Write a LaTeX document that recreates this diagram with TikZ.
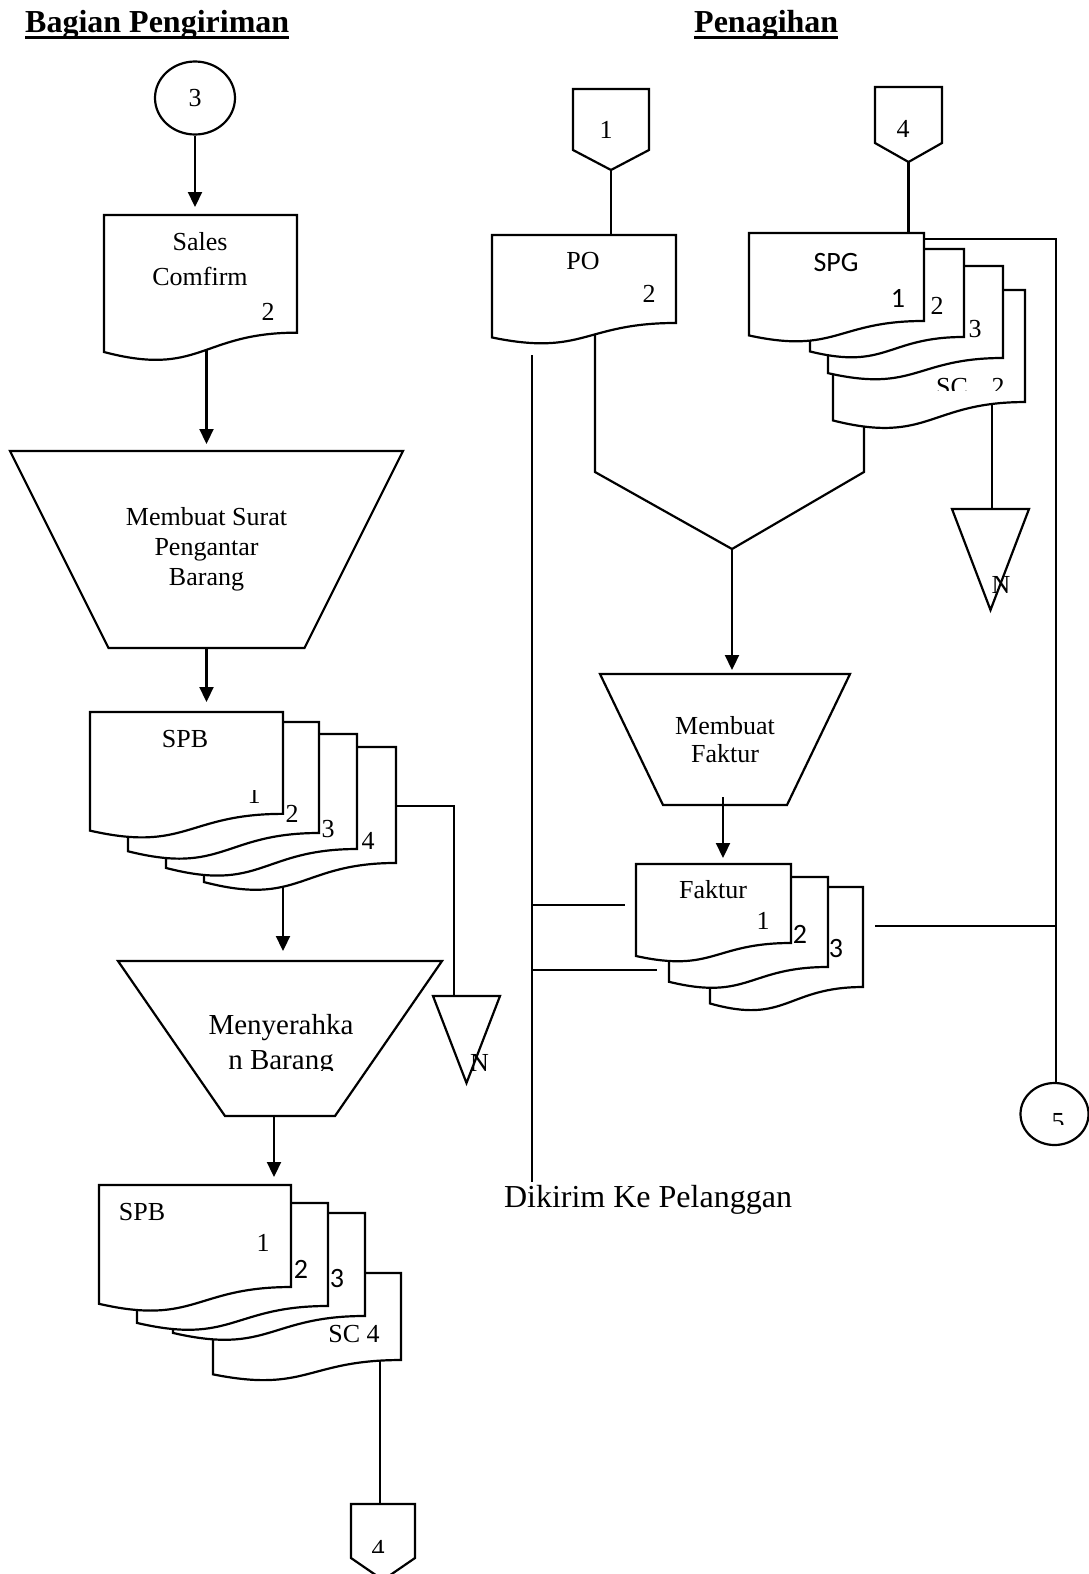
\documentclass[tikz,border=0pt]{standalone}
\usepackage{fontspec}
\setmainfont{Liberation Serif}
\newfontfamily\calfont{Carlito}
\usetikzlibrary{arrows.meta,calc,shapes.geometric,backgrounds}

\newcommand{\lab}{\fontsize{26}{30}\selectfont}
\newcommand{\labsans}{\calfont\fontsize{28}{32}\selectfont}
\newcommand{\hdr}{\bfseries\fontsize{32}{38}\selectfont}
\newcommand{\notefont}{\fontsize{32}{38}\selectfont}
\newcommand{\actfont}{\fontsize{29}{35}\selectfont}

\tikzset{
  ln/.style={line width=2.2pt, line join=miter},
  flow/.style={ln, -{Triangle[width=14pt,length=15pt]}},
  docfill/.style={ln, draw=black, fill=white},
  outline/.style={ln, draw=black},
  sheetbox/.style={rectangle, inner sep=0pt, outer sep=0pt, anchor=north west},
  procbox/.style={rectangle, inner sep=0pt, outer sep=0pt, align=center},
  lbl/.style={inner sep=0pt, anchor=base, font=\lab},
  lbls/.style={inner sep=0pt, anchor=base, font=\labsans},
}

% document sheet with a wavy lower edge: name, left, top, width, height
\newcommand{\docsheet}[5]{%
  \pgfmathsetmacro\dsR{#2+#4}%
  \pgfmathsetmacro\dsM{#2+0.5*#4}%
  \pgfmathsetmacro\dsYR{#3+0.802*#5}%
  \pgfmathsetmacro\dsYL{#3+0.934*#5}%
  \pgfmathsetmacro\dsYC{#3+1.1075*#5}%
  \node[sheetbox, minimum width=#4pt, minimum height=#5pt] (#1) at (#2,#3) {};%
  \filldraw[docfill] (#2,#3) -- (\dsR,#3) -- (\dsR,\dsYR)
    .. controls (\dsM,\dsYR) and (\dsM,\dsYC) .. (#2,\dsYL) -- cycle;%
}
% off-page connector: name, left, top, width, side height, full height
\newcommand{\offpage}[6]{%
  \node[sheetbox, minimum width=#4pt, minimum height=#6pt] (#1) at (#2,#3) {};%
  \filldraw[docfill] (#1.north west) -- (#1.north east) -- ($(#1.north east)+(0,#5)$)
    -- (#1.south) -- ($(#1.north west)+(0,#5)$) -- cycle;%
}
% archive triangle: name, left, top, width, height
\newcommand{\archtri}[5]{%
  \node[sheetbox, minimum width=#4pt, minimum height=#5pt] (#1) at (#2,#3) {};%
  \draw[outline] (#1.north west) -- (#1.north east) -- (#1.south) -- cycle;%
}
% manual operation: name, cx, cy, top width, bottom width, height, font, text
\newcommand{\procshape}[8]{%
  \node[procbox, minimum width=#4pt, minimum height=#6pt, font=#7] (#1) at (#2,#3) {#8};%
  \draw[outline] (#1.north west) -- (#1.north east) -- ($(#1.south)+(#5/2,0)$)
    -- ($(#1.south)+(-#5/2,0)$) -- cycle;%
}

\begin{document}
\begin{tikzpicture}[x=1pt,y=-1pt]
\useasboundingbox (0,0) rectangle (1088,1574);
\begin{scope}[on background layer]
  \fill[white] (0,0) rectangle (1088,1574);
\end{scope}

% headings
\node[inner sep=0pt, anchor=base west, font=\hdr] (hd1) at (25,32) {Bagian Pengiriman};
\draw[line width=3pt] ($(hd1.base west)+(0,5)$) -- ($(hd1.base east)+(0,5)$);
\node[inner sep=0pt, anchor=base west, font=\hdr] (hd2) at (694,32) {Penagihan};
\draw[line width=3pt] ($(hd2.base west)+(0,5)$) -- ($(hd2.base east)+(0,5)$);

% ---------- Bagian Pengiriman ----------
\node[ellipse, draw, ln, fill=white, minimum width=80pt, minimum height=73pt,
      inner sep=0pt, font=\lab] (c3) at (195,98) {3};

\docsheet{sc}{104}{215}{193}{146.7}
\node[lbl] (scl1) at (200,250) {Sales};
\node[lbl] (scl2) at (200,285) {Comfirm};
\node[lbl] (scn) at (268,320) {2};

\procshape{t1}{206.5}{549.5}{393}{196}{197}{\lab}{Membuat Surat\\Pengantar\\Barang}

\docsheet{d1d}{204}{747}{192}{144.6}
\docsheet{d1c}{166}{734}{191}{143.4}
\docsheet{d1b}{128}{722}{191}{138.4}
\docsheet{d1a}{90}{712}{193}{127}
\node[lbl] (d1l) at (185,747) {SPB};
\begin{scope}
  \clip (240,790) rectangle (270,810);
  \node[lbl] (d1n1) at (254,803) {1};
\end{scope}
\node[lbl] (d1n2) at (292,822) {2};
\node[lbl] (d1n3) at (328,837) {3};
\node[lbl] (d1n4) at (368,849) {4};

\archtri{n1}{433}{996}{67}{87}
\node[lbl] (n1l) at (479.5,1071) {N};

\procshape{t2}{280}{1038.5}{324}{110}{155}{\actfont}{}
\begin{scope}
  \clip (120,980) rectangle (440,1070);
  \node[inner sep=0pt, anchor=base, font=\actfont] (t2l1) at (281,1034) {Menyerahka};
  \node[inner sep=0pt, anchor=base, font=\actfont] (t2l2) at (281,1069) {n Barang};
\end{scope}

\docsheet{d2d}{213}{1273}{188}{108.5}
\docsheet{d2c}{173}{1213}{192}{128.4}
\docsheet{d2b}{137}{1203}{191}{128.4}
\docsheet{d2a}{99}{1185}{192}{127.2}
\node[lbl] (d2l) at (142,1220) {SPB};
\node[lbl] (d2n1) at (263,1251) {1};
\node[lbls] (d2n2) at (301,1278) {2};
\node[lbls] (d2n3) at (337,1287) {3};
\node[lbl] (d2n4) at (354,1342) {SC 4};

\offpage{o4b}{351}{1504}{64}{54}{76}
\begin{scope}
  \clip (355,1520) rectangle (410,1552);
  \node[lbl] (o4bl) at (378,1557) {4};
\end{scope}

% ---------- Penagihan ----------
\offpage{o1}{573}{89}{76}{61}{81}
\node[lbl] (o1l) at (606,138) {1};
\offpage{o4}{875}{87}{67}{56}{75}
\node[lbl] (o4l) at (903,137) {4};

\docsheet{po}{492}{235}{184}{109.7}
\node[lbl] (pol) at (583,269) {PO};
\node[lbl] (pon) at (649,302) {2};

\docsheet{s4}{833}{290}{192}{139.7}
\docsheet{s3}{828}{266}{175}{114.7}
\docsheet{s2}{810}{249}{154}{109.7}
\docsheet{s1}{749}{233}{175}{109.7}
\node[lbls] (s1l) at (836,271) {SPG};
\node[lbls] (s1n) at (898,307) {1};
\node[lbl] (s2n) at (937,314) {2};
\node[lbl] (s3n) at (975,337) {3};
\begin{scope}
  \clip (930,370) rectangle (1015,390);
  \node[lbl] (s4l) at (952,395) {SC};
  \node[lbl] (s4n) at (998,395) {2};
\end{scope}

\archtri{n2}{952}{509}{77}{101}
\node[lbl] (n2l) at (1001,593) {N};

\procshape{t3}{725}{739.5}{250}{124}{131}{\fontsize{26}{28}\selectfont}{Membuat\\Faktur}

\docsheet{f3}{710}{887}{153}{124.7}
\docsheet{f2}{669}{877}{159}{112.2}
\docsheet{f1}{636}{864}{155}{98.5}
\node[lbl] (f1l) at (713,898) {Faktur};
\node[lbl] (f1n) at (763,929) {1};
\node[lbls] (f2n) at (800,943) {2};
\node[lbls] (f3n) at (836,957) {3};

\node[ellipse, draw, ln, fill=white, minimum width=68pt, minimum height=62pt,
      inner sep=0pt] (c5) at (1054.5,1114) {};
\begin{scope}
  \clip (1035,1100) rectangle (1080,1124);
  \node[lbl] (c5l) at (1058,1130) {5};
\end{scope}

\node[inner sep=0pt, anchor=base, font=\notefont] (cust) at (648,1207) {Dikirim Ke Pelanggan};

% bend and end points of the flow lines
\coordinate (k1) at (454,806);
\coordinate (k2) at (283,870);
\coordinate (k3) at (274,1116);
\coordinate (k4) at (380,1350);
\coordinate (k5) at (1056,239);
\coordinate (k6) at (992,395);
\coordinate (k7) at (723,797);
\coordinate (kl) at (595,472);
\coordinate (kr) at (864,472);
\coordinate (m) at (732,549);
\coordinate (v1) at (532,355);
\coordinate (v2) at (532,1182);
\coordinate (h1) at (625,905);
\coordinate (h2) at (657,970);
\coordinate (h3) at (875,926);

% flow lines (under the sheets)
\begin{scope}[on background layer]
  \draw[flow, shorten >=8pt] (c3.south) -- (c3.south |- sc.north);
  \draw[flow, shorten >=7pt] (t1.north |- sc.center) -- (t1.north);
  \draw[flow, shorten >=10pt] (t1.south) -- (t1.south |- d1a.north);
  \draw[ln] (k1 -| d1d.east) -- (k1) -- (k1 |- n1.north);
  \draw[flow, shorten >=10pt] (k2) -- (k2 |- t2.north);
  \draw[flow, shorten >=8pt] (k3) -- (k3 |- d2a.north);
  \draw[ln] (k4) -- (k4 |- o4b.north);

  \draw[ln] (o1.south) -- (o1.south |- po.north);
  \draw[ln] (o4.south) -- (o4.south |- s1.north);
  \draw[ln] (k5 -| s1.east) -- (k5) -- (k5 |- c5.north);
  \draw[ln] (k6) -- (k6 |- n2.north);
  \draw[ln] (kl |- po.center) -- (kl) -- (m) -- (kr) -- (kr |- s4.center);
  \draw[flow, shorten >=4pt] (m) -- (m |- t3.north);
  \draw[ln] (v1) -- (v2);
  \draw[ln] (h1 -| v1) -- (h1);
  \draw[ln] (h2 -| v1) -- (h2);
  \draw[ln] (h3) -- (h3 -| k5);
\end{scope}
\draw[flow, shorten >=6pt] (k7) -- (k7 |- f1.north);

\end{tikzpicture}
\end{document}
